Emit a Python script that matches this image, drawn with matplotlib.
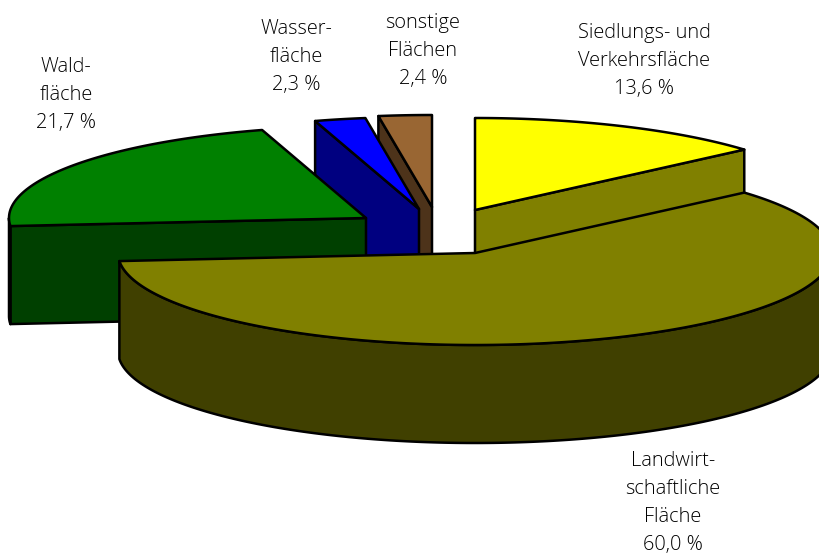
import numpy as np
import matplotlib
matplotlib.use("Agg")
import matplotlib.pyplot as plt
from matplotlib.patches import Polygon

plt.rcParams['font.family'] = ['Open Sans', 'DejaVu Sans']

# shares in percent, clockwise from 12 o'clock
names = ["Siedlungs- und\nVerkehrsfläche", "Landwirt-\nschaftliche\nFläche", "Wald-\nfläche", "Wasser-\nfläche", "sonstige\nFlächen"]
shares = [13.6, 60.0, 21.7, 2.3, 2.4]
top_colors = ["#ffff00", "#808000", "#008000", "#0000ff", "#996633"]
wall_colors = ["#808000", "#404000", "#004000", "#000080", "#4d331a"]

# pie geometry in pixels
rx, ry = 357, 92
depth = 98
apex = [(475, 210), (475, 253), (366, 218), (419, 209), (432, 207)]
label_pos = [(644, 61), (673, 503), (66, 95), (296, 57), (423, 51)]

edges = np.concatenate([[0], np.cumsum(shares)]) / 100 * 2 * np.pi


def rim(cx, cy, a0, a1):
    t = np.linspace(a0, a1, 200)
    return np.column_stack([cx + rx * np.sin(t), cy - ry * np.cos(t)])


def draw_slice(ax, i):
    cx, cy = apex[i]
    a0, a1 = edges[i], edges[i + 1]
    arc = rim(cx, cy, a0, a1)
    down = np.array([0, depth])
    style = dict(edgecolor="black", linewidth=1.8, joinstyle="round")

    # radial walls, only the ones that face the viewer
    start = np.array([arc[0], [cx, cy], np.array([cx, cy]) + down, arc[0] + down])
    end = np.array([arc[-1], [cx, cy], np.array([cx, cy]) + down, arc[-1] + down])
    if np.sin(a0) < 0:
        ax.add_patch(Polygon(start, facecolor=wall_colors[i], **style))
    if np.sin(a1) > 0:
        ax.add_patch(Polygon(end, facecolor=wall_colors[i], **style))

    # outer wall, front half of the ellipse only
    lo, hi = max(a0, np.pi / 2), min(a1, 3 * np.pi / 2)
    if lo < hi:
        front = rim(cx, cy, lo, hi)
        ax.add_patch(Polygon(np.vstack([front, front[::-1] + down]), facecolor=wall_colors[i], **style))

    ax.add_patch(Polygon(np.vstack([[cx, cy], arc]), facecolor=top_colors[i], **style))


fig = plt.figure(figsize=(8.19, 5.56), dpi=100)
ax = fig.add_axes([0, 0, 1, 1])
ax.set_xlim(0, 819)
ax.set_ylim(556, 0)
ax.axis("off")

# back to front
for i in [4, 3, 2, 0, 1]:
    draw_slice(ax, i)

for name, share, pos in zip(names, shares, label_pos):
    txt = name + "\n" + f"{share:.1f} %".replace(".", ",")
    ax.text(pos[0], pos[1], txt, ha="center", va="center", fontsize=14.4, fontweight="light", color="black", linespacing=1.55)

fig.savefig("out.png", dpi=100)
